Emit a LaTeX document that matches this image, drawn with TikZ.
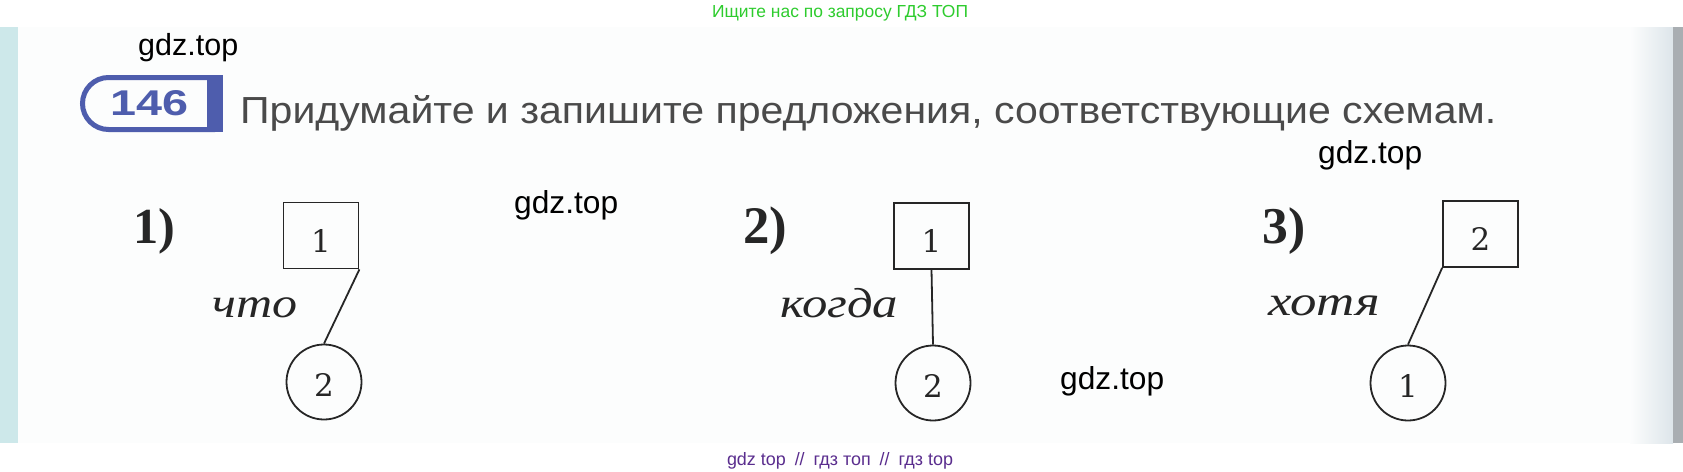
\documentclass[tikz,border=0pt]{standalone}
\usepackage{fontspec}
\setmainfont{Liberation Serif}
\newfontfamily\sansf{Liberation Sans}
\newfontfamily\digitf{DejaVu Serif}
\usepackage{graphicx}
\definecolor{ink}{HTML}{262626}
\definecolor{paper}{HTML}{FCFDFD}
\definecolor{leftstrip}{HTML}{CDE8EA}
\definecolor{edgeblue}{HTML}{DDE5EA}
\definecolor{edgegray}{HTML}{A9AEB2}
\definecolor{badgeblue}{HTML}{4E5DAD}
\definecolor{titlegray}{HTML}{4A4A4A}
\definecolor{hdrgreen}{HTML}{2ECC2E}
\definecolor{ftrpurple}{HTML}{5A2D8E}
\begin{document}
\begin{tikzpicture}[x=1pt,y=-1pt,
  box/.style={draw=ink, line width=1.8pt, minimum width=75pt, minimum height=66pt,
    inner sep=0pt, text height=33pt, text depth=0pt, text=ink,
    font=\digitf\fontsize{31}{31}\selectfont},
  ring/.style={draw=ink, circle, line width=1.8pt, minimum size=75pt, inner sep=0pt,
    text height=28pt, text depth=0pt, text=ink, font=\digitf\fontsize{31}{31}\selectfont},
  link/.style={draw=ink, line width=1.8pt},
  num/.style={inner sep=0pt, anchor=base west, text=ink},
  conj/.style={inner sep=0pt, anchor=base west, text=ink},
  wm/.style={inner sep=0pt, anchor=base west, text=black},
]
\useasboundingbox (0,0) rectangle (1683,471);
\fill[white] (0,0) rectangle (1683,471);
\fill[paper] (0,27) rectangle (1683,443);
\fill[leftstrip] (0,27) rectangle (18,443);
\shade[left color=paper, right color=edgeblue] (1630,27) rectangle (1673,443);
\fill[edgegray] (1673,27) rectangle (1683,443);

% header and footer
\node[inner sep=0pt, anchor=base, text=hdrgreen] (hdr) at (840,17)
  {\resizebox{256pt}{!}{\sansf Ищите нас по запросу ГДЗ ТОП}};
\node[inner sep=0pt, anchor=base, text=ftrpurple] (ftr) at (840,465)
  {\resizebox{226pt}{!}{\sansf gdz top\enspace//\enspace гдз топ\enspace//\enspace гдз top}};

% badge
\draw[badgeblue, line width=5pt, rounded corners=26pt]
  (215,77.5) -- (82.5,77.5) -- (82.5,129.5) -- (215,129.5);
\fill[badgeblue] (207,75) rectangle (223,132);
\node[inner sep=0pt, anchor=base west, text=badgeblue] (badge) at (110,115)
  {\resizebox{78pt}{25pt}{\sansf\bfseries 146}};

% title
\node[inner sep=0pt, anchor=base west, text=titlegray] (title) at (240,123)
  {\resizebox{1256pt}{\height}{\sansf\fontsize{37.7}{40}\selectfont Придумайте и запишите предложения, соответствующие схемам.}};

% watermarks
\node[wm] (wm1) at (138,55) {\resizebox{100pt}{!}{\sansf gdz.top}};
\node[wm] (wm2) at (1318,163) {\resizebox{104pt}{!}{\sansf gdz.top}};
\node[wm] (wm3) at (514,213) {\resizebox{104pt}{!}{\sansf gdz.top}};
\node[wm] (wm4) at (1060,389) {\resizebox{104pt}{!}{\sansf gdz.top}};

% scheme 1
\node[num] (n1) at (133,243) {\resizebox{42pt}{!}{\bfseries 1)}};
\node[box] (s1) at (321,235.5) {1};
\node[ring] (c1) at (324,382) {2};
\draw[link] (s1.south east) -- (c1.north);
\node[conj] (w1) at (212,317) {\resizebox{85pt}{\height}{\fontsize{42}{42}\selectfont\itshape что}};

% scheme 2
\node[num] (n2) at (743,243) {\resizebox{44pt}{!}{\bfseries 2)}};
\node[box] (s2) at (931.5,236) {1};
\node[ring] (c2) at (933,383) {2};
\draw[link] (s2.south) -- (c2.north);
\node[conj] (w2) at (780,317) {\resizebox{118pt}{\height}{\fontsize{42}{42}\selectfont\itshape когда}};

% scheme 3
\node[num] (n3) at (1262,243) {\resizebox{43pt}{!}{\bfseries 3)}};
\node[box] (s3) at (1480.5,234) {2};
\node[ring] (c3) at (1408,383) {1};
\draw[link] (s3.south west) -- (c3.north);
\node[conj] (w3) at (1268,315) {\resizebox{112pt}{\height}{\fontsize{42}{42}\selectfont\itshape хотя}};
\end{tikzpicture}
\end{document}
